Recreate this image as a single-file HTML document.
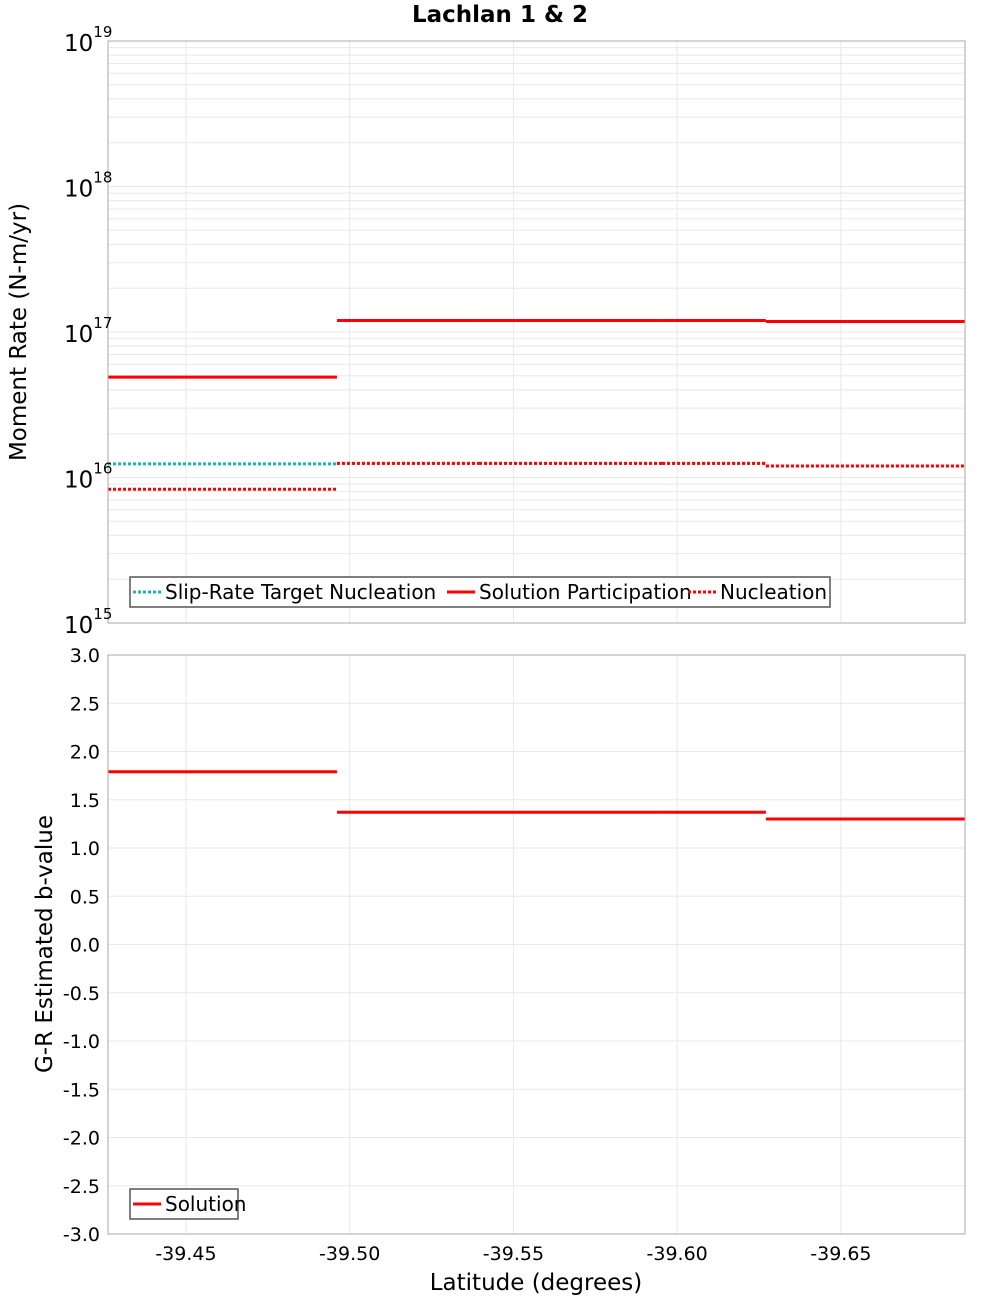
<!DOCTYPE html>
<html><head><meta charset="utf-8"><style>
body{margin:0;background:#fff;width:1000px;height:1300px;overflow:hidden}
svg{font-family:"DejaVu Sans","Liberation Sans",sans-serif}
</style></head><body>
<svg id="c" width="1000" height="1300"></svg>
<script>
const segStarts=[-39.4262,-39.4961,-39.5395,-39.5954,-39.6271];
const segEnds=[-39.4961,-39.5395,-39.5954,-39.6271,-39.6879];
const participation=[4.9e16,1.2e17,1.2e17,1.2e17,1.18e17];
const targetNucleation=[1.24e16,1.25e16,1.25e16,1.25e16,1.2e16];
const nucleation=[8.3e15,1.25e16,1.25e16,1.25e16,1.2e16];
const bValues=[1.79,1.37,1.37,1.37,1.30];
const xTicks=[-39.45,-39.50,-39.55,-39.60,-39.65];
const bTicks=[3,2.5,2,1.5,1,0.5,0,-0.5,-1,-1.5,-2,-2.5,-3];
const logExps=[15,16,17,18,19];

const NS="http://www.w3.org/2000/svg",svg=document.getElementById('c');
const L=108,R=965,T1=41,B1=623,T2=655,B2=1234;
const xMin=-39.4262,xMax=-39.6879;
const X=v=>L+(v-xMin)/(xMax-xMin)*(R-L);
const Y1=v=>B1-(Math.log10(v)-15)/4*(B1-T1);
const Y2=v=>T2+(3-v)/6*(B2-T2);
function el(t,a,p){const e=document.createElementNS(NS,t);for(const k in a)e.setAttribute(k,a[k]);(p||svg).appendChild(e);return e;}
function txt(x,y,s,a){const e=el('text',Object.assign({x,y},a));e.textContent=s;return e;}

for(const [T,B,nm] of [[T1,B1,'moment-plot'],[T2,B2,'bvalue-plot']]){
  const r=el('rect',{x:L,y:T,width:R-L,height:B-T,fill:'#fff',stroke:'none'});
  
  xTicks.forEach(v=>el('line',{x1:X(v),x2:X(v),y1:T,y2:B,stroke:'#e8e8e8'}));
}
for(let e=15;e<19;e++)for(let m=1;m<10;m++){const y=Y1(m*Math.pow(10,e));el('line',{x1:L,x2:R,y1:y,y2:y,stroke:'#e8e8e8'});}
bTicks.forEach(v=>el('line',{x1:L,x2:R,y1:Y2(v),y2:Y2(v),stroke:'#e8e8e8'}));

function seg(vals,Y,col,dash,nm){const g=el('g',{});
  vals.forEach((v,i)=>{const a={x1:X(segStarts[i]),x2:X(segEnds[i]),y1:Y(v),y2:Y(v),stroke:col,'stroke-width':3};if(dash)a['stroke-dasharray']='3,2';
  const l=el('line',a,g);});}
seg(targetNucleation,Y1,'#1fb5b5',true,'target-nucleation-series');
seg(nucleation,Y1,'#ff0000',true,'nucleation-series');
seg(participation,Y1,'#ff0000',false,'participation-series');
seg(bValues,Y2,'#ff0000',false,'bvalue-series');

for(const [T,B] of [[T1,B1],[T2,B2]])el('rect',{x:L,y:T,width:R-L,height:B-T,fill:'none',stroke:'#aaa'});

logExps.forEach(e=>{const y=Y1(Math.pow(10,e));const t=txt(64,y+10,'10',{'font-size':23});
  const s=el('tspan',{dy:-14,'font-size':15},t);s.textContent=e;});
bTicks.forEach(v=>txt(100,Y2(v)+7,v.toFixed(1),{'font-size':19,'text-anchor':'end'}));
xTicks.forEach(v=>txt(X(v),1260,v.toFixed(2),{'font-size':19,'text-anchor':'middle'}));

let t=txt(500,22,'Lachlan 1 & 2',{'font-size':23,'font-weight':'bold','text-anchor':'middle'});

t=txt(536,1290,'Latitude (degrees)',{'font-size':23,'text-anchor':'middle'});

t=txt(0,0,'Moment Rate (N-m/yr)',{'font-size':23,'text-anchor':'middle',transform:'translate(26,332) rotate(-90)'});

t=txt(0,0,'G-R Estimated b-value',{'font-size':23,'text-anchor':'middle',transform:'translate(52,944) rotate(-90)'});


function legend(x,y,w,items,nm){const g=el('g',{});
  el('rect',{x,y,width:w,height:30,fill:'#fff',stroke:'#555','stroke-width':1.5},g);
  let cx=x+3;items.forEach(([lab,col,dash,tw])=>{const a={x1:cx,x2:cx+28,y1:y+15,y2:y+15,stroke:col,'stroke-width':3};if(dash)a['stroke-dasharray']='3,2';el('line',a,g);
  const tt=txt(cx+32,y+22,lab,{'font-size':20});g.appendChild(tt);cx+=31+tw;});}
legend(130,577,700,[['Slip-Rate Target Nucleation','#1fb5b5',true,283],['Solution Participation','#ff0000',false,210],['Nucleation','#ff0000',true,120]],'moment-legend');
legend(130,1189,108,[['Solution','#ff0000',false,80]],'bvalue-legend');
</script>
</body></html>
